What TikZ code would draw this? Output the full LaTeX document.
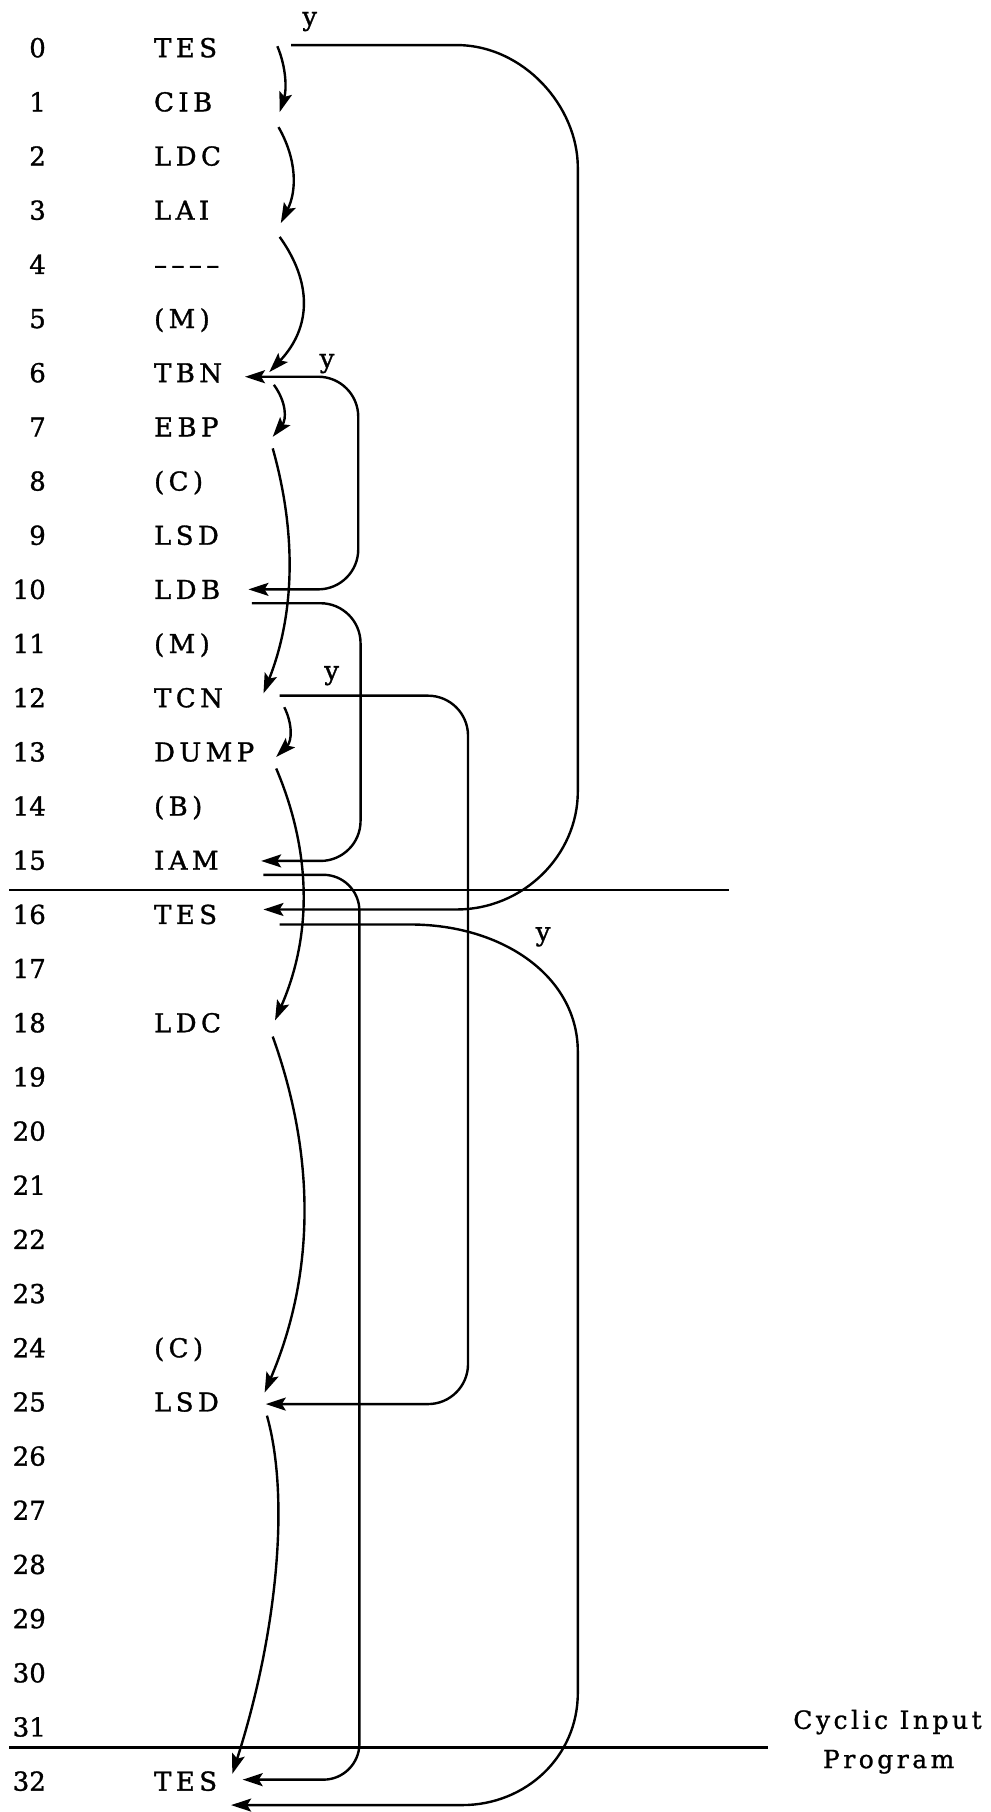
\documentclass[tikz,border=0pt]{standalone}
\usepackage{fontspec}
\setmainfont{DejaVu Serif}
\usetikzlibrary{arrows.meta}
\newcommand{\fourdash}{\textendash\textendash\textendash\textendash}
\begin{document}
\begin{tikzpicture}[x=0.5776pt,y=-0.5776pt,
  txt/.style={inner sep=0pt,font=\fontsize{13pt}{15pt}\selectfont\addfontfeature{FakeBold=1.2}},
  mn/.style={inner sep=0pt,anchor=base west,font=\fontsize{13pt}{15pt}\selectfont\addfontfeature{FakeBold=1.2,LetterSpace=17}},
  nm/.style={txt,anchor=base east},
  lab/.style={txt,anchor=base},
  captxt/.style={inner sep=0pt,anchor=base,font=\fontsize{12.5pt}{14pt}\selectfont\addfontfeature{FakeBold=1,LetterSpace=14}},
  lnk/.style={line width=1.2pt,-{Stealth[length=10pt,width=6.5pt,inset=2pt]}},
  dbl/.style={line width=1.2pt,{Stealth[length=10pt,width=6.5pt,inset=2pt]}-{Stealth[length=10pt,width=6.5pt,inset=2pt]}},
  sep/.style={line width=1.2pt}]
\useasboundingbox (0,0) rectangle (857,1568);
% row numbers
\foreach \k in {0,...,32}{
  \node[nm] (n\k) at (40,{42+46.875*\k+7.5}) {\k};
}
% mnemonics
\foreach \k/\t in {0/TES,1/CIB,2/LDC,3/LAI,4/\fourdash,5/(M),6/TBN,7/EBP,8/(C),9/LSD,10/LDB,11/(M),12/TCN,13/DUMP,14/(B),15/IAM,16/TES,18/LDC,24/(C),25/LSD,32/TES}{
  \node[mn] (m\k) at (133,{42+46.875*\k+7.5}) {\t};
}
% y labels
\node[lab] (y0) at (268,22) {y};
\node[lab] (y6) at (283,318) {y};
\node[lab] (y12) at (287,588) {y};
\node[lab] (y16) at (470,814) {y};
% separators
\coordinate (h1a) at (8,770); \coordinate (h1b) at (631,770);
\coordinate (h2a) at (8,1512); \coordinate (h2b) at (665,1512);
\draw[sep] (h1a) -- (h1b);
\draw[sep] (h2a) -- (h2b);
\node[captxt] (cyc1) at (768,1496) {Cyclic Input};
\node[captxt] (cyc2) at (769,1530) {Program};
% sequence arrows
\coordinate (s0) at (240,40);   \coordinate (e0) at (242,97);
\coordinate (s1) at (241,110);  \coordinate (e1) at (243,193);
\coordinate (s2) at (242,205);  \coordinate (e2) at (233,322);
\coordinate (s3) at (237,333);  \coordinate (e3) at (236,378);
\coordinate (s4) at (236,388);  \coordinate (e4) at (228,600);
\coordinate (s5) at (246,612);  \coordinate (e5) at (239,655);
\coordinate (s6) at (239,665);  \coordinate (e6) at (238,883);
\coordinate (s7) at (236,897);  \coordinate (e7) at (229,1205);
\coordinate (s8) at (231,1225); \coordinate (e8) at (201,1535);
\draw[lnk] (s0) .. controls (248,59) and (248,78) .. (e0);
\draw[lnk] (s1) .. controls (257,138) and (257,165) .. (e1);
\draw[lnk] (s2) .. controls (270,244) and (270,283) .. (e2);
\draw[lnk] (s3) .. controls (248,348) and (248,363) .. (e3);
\draw[lnk] (s4) .. controls (256,459) and (256,529) .. (e4);
\draw[lnk] (s5) .. controls (253,626) and (253,641) .. (e5);
\draw[lnk] (s6) .. controls (270,738) and (270,810) .. (e6);
\draw[lnk] (s7) .. controls (273,1000) and (273,1102) .. (e7);
\draw[lnk] (s8) .. controls (252,1300) and (238,1420) .. (e8);
% big loop TES(0) -> TES(16)
\coordinate (b0s) at (252,39); \coordinate (b0e) at (228,787);
\draw[lnk] (b0s) -- (395,39) .. controls (453,39) and (500,92) .. (500,145)
  -- (500,685) .. controls (500,740) and (453,787) .. (395,787) -- (b0e);
% TBN <-> LDB loop
\coordinate (t6) at (212,326); \coordinate (t10) at (215,510);
\draw[dbl,rounded corners=20] (t6) -- (310,326) -- (310,510) -- (t10);
% LDB -> IAM
\coordinate (l10) at (218,522); \coordinate (i15) at (226,745);
\draw[lnk,rounded corners=20] (l10) -- (312,522) -- (312,745) -- (i15);
% TCN -> LSD
\coordinate (c12) at (242,602); \coordinate (d25) at (230,1215);
\draw[lnk,rounded corners=20] (c12) -- (405,602) -- (405,1215) -- (d25);
% IAM -> TES(32)
\coordinate (i15b) at (228,757); \coordinate (t32) at (210,1540);
\draw[lnk,rounded corners=18] (i15b) -- (311,757) -- (311,1540) -- (t32);
% TES(16) -> beyond
\coordinate (t16) at (242,800); \coordinate (t33) at (200,1562);
\draw[lnk] (t16) -- (355,800) .. controls (435,800) and (500,845) .. (500,910)
  -- (500,1465) .. controls (500,1520) and (455,1562) .. (400,1562) -- (t33);
\end{tikzpicture}
\end{document}
